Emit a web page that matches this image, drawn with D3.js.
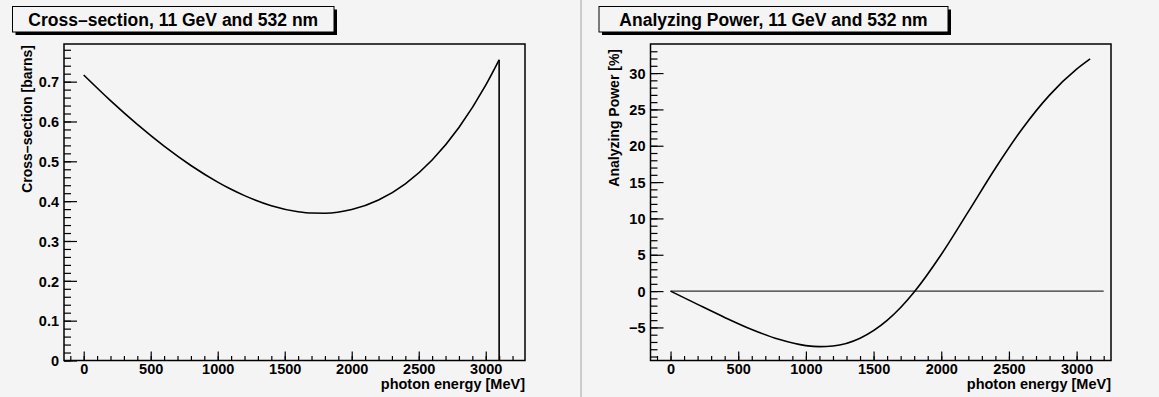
<!DOCTYPE html>
<html>
<head>
<meta charset="utf-8">
<script src="https://cdn.jsdelivr.net/npm/d3@7"></script>
<style>
  body { margin: 0; background: #f4f4f4; }
  svg { display: block; }
  text { font-family: "Liberation Sans", Helvetica, Arial, sans-serif; font-weight: bold; fill: #000; }
</style>
</head>
<body>
<div id="chart"></div>
<script>
// photon energy [MeV]
const energy = [0, 200, 400, 600, 800, 1000, 1100, 1200, 1400, 1600, 1700, 1800, 2000, 2200, 2400, 2600, 2800, 3000, 3100];
// cross-section [barns]
const crossSection = [0.7166, 0.6523, 0.5926, 0.5381, 0.4896, 0.4479, 0.4298, 0.4139, 0.3887, 0.3735, 0.3701, 0.3698, 0.379, 0.4029, 0.4436, 0.5034, 0.585, 0.6914, 0.7549];
// analyzing power [%]
const analyzingPower = [0, -1.83, -3.62, -5.28, -6.64, -7.5, -7.64, -7.55, -6.48, -4.03, -2.26, -0.13, 5.03, 10.93, 16.91, 22.38, 26.97, 30.53, 31.94];

const edgeEnergy = 3100;
const zeroLine = [0, 3200];

const xTicks = [0, 500, 1000, 1500, 2000, 2500, 3000];
const csTicks = [0, 0.1, 0.2, 0.3, 0.4, 0.5, 0.6, 0.7];
const apTicks = [-5, 0, 5, 10, 15, 20, 25, 30];

const width = 1159;
const height = 397;

const svg = d3.select("#chart")
  .append("svg")
  .attr("width", width)
  .attr("height", height);

// divider between the two pads
svg.append("rect")
  .attr("x", 580)
  .attr("y", 0)
  .attr("width", 2)
  .attr("height", height)
  .attr("fill", "#cbcbcb");

function drawPanel({ left, right, xDomain, yDomain, yTicks, yMinor, yFormat, title, titleBox, yLabel, yLabelTop, curve, extras }) {
  const top = 44;
  const bottom = 360.5;

  const x = d3.scaleLinear().domain(xDomain).range([left, right]);
  const y = d3.scaleLinear().domain(yDomain).range([bottom, top]);

  const g = svg.append("g");

  // minor ticks
  const xMinor = d3.range(-100, xDomain[1], 100).filter((d) => d > xDomain[0]);
  g.append("g")
    .attr("transform", `translate(0,${bottom})`)
    .call(d3.axisBottom(x).tickValues(xMinor).tickSize(-4.5).tickSizeOuter(0).tickFormat(""))
    .call((a) => a.select(".domain").remove());
  g.append("g")
    .attr("transform", `translate(${left},0)`)
    .call(d3.axisLeft(y).tickValues(yMinor).tickSize(-7).tickSizeOuter(0).tickFormat(""))
    .call((a) => a.select(".domain").remove());

  // major ticks + labels
  const xAxis = g.append("g")
    .attr("transform", `translate(0,${bottom})`)
    .call(d3.axisBottom(x).tickValues(xTicks).tickSize(-9).tickSizeOuter(0).tickPadding(3).tickFormat(d3.format("d")));
  xAxis.select(".domain").remove();
  xAxis.selectAll("text").style("font-size", "14.5px");

  const yAxis = g.append("g")
    .attr("transform", `translate(${left},0)`)
    .call(d3.axisLeft(y).tickValues(yTicks).tickSize(-13).tickSizeOuter(0).tickPadding(5).tickFormat(yFormat));
  yAxis.select(".domain").remove();
  yAxis.selectAll("text").style("font-size", "14.5px").attr("dy", "0.36em");
  g.selectAll(".tick line").attr("stroke", "#000").attr("stroke-width", 1.2);

  // extra reference lines
  if (extras) extras(g, x, y);

  // curve
  const line = d3.line()
    .x((d) => x(d[0]))
    .y((d) => y(d[1]))
    .curve(d3.curveMonotoneX);
  g.append("path")
    .datum(energy.map((e, i) => [e, curve[i]]))
    .attr("d", line)
    .attr("fill", "none")
    .attr("stroke", "#000")
    .attr("stroke-width", 1.6);

  // frame
  g.append("rect")
    .attr("x", left)
    .attr("y", top)
    .attr("width", right - left)
    .attr("height", bottom - top)
    .attr("fill", "none")
    .attr("stroke", "#000")
    .attr("stroke-width", 1.5);

  // axis titles
  g.append("text")
    .attr("x", right)
    .attr("y", 388.5)
    .attr("text-anchor", "end")
    .style("font-size", "14.5px")
    .text("photon energy [MeV]");
  g.append("text")
    .attr("transform", `translate(${left - 32},${yLabelTop}) rotate(-90)`)
    .attr("text-anchor", "end")
    .style("font-size", "14px")
    .text(yLabel);

  // title box with shadow
  const [bx0, bx1] = titleBox;
  g.append("rect")
    .attr("x", bx0 + 3)
    .attr("y", 9.5)
    .attr("width", bx1 - bx0)
    .attr("height", 25.5)
    .attr("fill", "#000");
  g.append("rect")
    .attr("x", bx0)
    .attr("y", 6.5)
    .attr("width", bx1 - bx0)
    .attr("height", 25.5)
    .attr("fill", "#f4f4f4")
    .attr("stroke", "#000")
    .attr("stroke-width", 1);
  g.append("text")
    .attr("x", (bx0 + bx1) / 2)
    .attr("y", 25.5)
    .attr("text-anchor", "middle")
    .style("font-size", "17.5px")
    .text(title);
}

drawPanel({
  left: 64,
  right: 525,
  xDomain: [-147, 3293],
  yDomain: [0, 0.7945],
  yTicks: csTicks,
  yMinor: d3.range(0, 0.79, 0.02),
  yFormat: (d) => String(+d.toFixed(1)),
  title: "Cross\u2013section, 11 GeV and 532 nm",
  titleBox: [12.5, 334],
  yLabel: "Cross\u2013section [barns]",
  yLabelTop: 45,
  curve: crossSection,
  extras: (g, x, y) => {
    // drop at the Compton edge
    g.append("line")
      .attr("x1", x(edgeEnergy))
      .attr("x2", x(edgeEnergy))
      .attr("y1", y(crossSection[crossSection.length - 1]))
      .attr("y2", y(0))
      .attr("stroke", "#000")
      .attr("stroke-width", 1.6);
  },
});

drawPanel({
  left: 650.5,
  right: 1111,
  xDomain: [-148, 3254],
  yDomain: [-9.55, 34.0],
  yTicks: apTicks,
  yMinor: d3.range(-9, 34, 1),
  yFormat: d3.format("d"),
  title: "Analyzing Power, 11 GeV and 532 nm",
  titleBox: [599, 948],
  yLabel: "Analyzing Power [%]",
  yLabelTop: 49,
  curve: analyzingPower,
  extras: (g, x, y) => {
    // zero line
    g.append("line")
      .attr("x1", x(zeroLine[0]))
      .attr("x2", x(zeroLine[1]))
      .attr("y1", y(0))
      .attr("y2", y(0))
      .attr("stroke", "#000")
      .attr("stroke-width", 1);
  },
});
</script>
</body>
</html>
